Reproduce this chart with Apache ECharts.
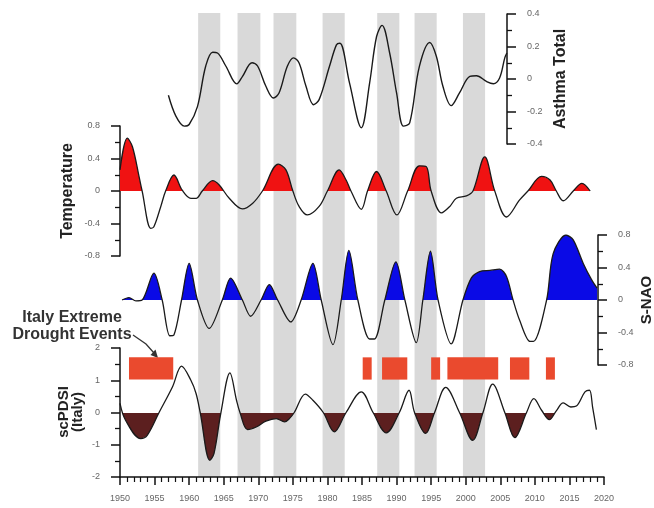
<!DOCTYPE html>
<html>
<head>
<meta charset="utf-8">
<script src="https://cdn.jsdelivr.net/npm/echarts@6/dist/echarts.min.js"></script>
<style>
html,body{margin:0;padding:0;background:#fff;}
#chart{width:654px;height:508px;}
</style>
</head>
<body>
<div id="chart"></div>
<script>
// ---- Data ----
const xTickLabels = ['1950','1955','1960','1965','1970','1975','1980','1985','1990','1995','2000','2005','2010','2015','2020'];

const bandStart = [1961.3, 1967.0, 1972.2, 1979.3, 1987.2, 1992.6, 1999.6];
const bandEnd   = [1964.5, 1970.3, 1975.5, 1982.5, 1990.4, 1995.8, 2002.8];

const asthmaYears  = [1957.0,1958.1,1959.3,1960.0,1961.2,1962.4,1963.4,1964.1,1965.3,1966.9,1967.7,1969.1,1969.9,1971.1,1972.2,1973.0,1974.2,1975.1,1975.9,1976.9,1978.0,1978.8,1980.3,1981.3,1981.8,1983.2,1984.9,1986.1,1987.1,1987.9,1989.0,1990.0,1991.0,1991.9,1993.3,1994.8,1995.75,1996.7,1997.9,1999.1,2000.6,2001.55,2003.0,2004.0,2004.9,2005.65,2005.95];
const asthmaValues = [-0.10,-0.23,-0.29,-0.28,-0.17,0.08,0.165,0.16,0.08,-0.03,0.015,0.10,0.08,-0.045,-0.117,-0.086,0.078,0.13,0.098,-0.045,-0.158,-0.127,0.078,0.21,0.22,-0.025,-0.30,-0.025,0.26,0.33,0.16,-0.086,-0.29,-0.27,0.078,0.225,0.14,-0.045,-0.164,-0.086,0.016,0.02,-0.015,-0.029,0.006,0.13,0.16];

const tempYears  = [1950.0,1951.06,1951.8,1952.75,1953.2,1954.45,1954.9,1955.9,1956.6,1957.8,1959.0,1960.25,1961.0,1961.9,1963.4,1964.35,1965.8,1967.7,1969.2,1970.6,1972.9,1974.0,1975.0,1975.9,1977.1,1978.8,1980.0,1981.7,1982.7,1983.4,1984.9,1985.8,1987.1,1988.5,1990.05,1991.6,1993.3,1994.3,1995.0,1996.5,1997.7,1998.65,2000.1,2001.05,2002.75,2004.2,2005.9,2007.8,2009.0,2010.97,2012.2,2013.1,2014.1,2015.55,2016.8,2018.0];
const tempValues = [0.26,0.65,0.545,0.18,0,-0.46,-0.44,-0.19,0,0.197,0.01,-0.09,-0.09,0,0.127,0.074,-0.09,-0.22,-0.15,0,0.33,0.26,0,-0.19,-0.295,-0.19,0,0.26,0.135,0,-0.225,0,0.24,0,-0.295,0,0.31,0.30,0,-0.27,-0.19,-0.09,-0.06,0,0.42,0,-0.32,-0.11,0,0.18,0.135,0,-0.12,0,0.095,0];

const snaoYears  = [1950.3,1951.3,1952.3,1953.2,1954.9,1956.1,1957.2,1957.8,1958.9,1960.0,1961.2,1962.9,1964.8,1966.0,1967.7,1968.9,1970.4,1971.6,1972.8,1974.7,1976.2,1977.9,1979.1,1980.8,1982.0,1983.1,1984.4,1986.1,1986.8,1988.3,1989.9,1991.2,1992.85,1993.8,1994.9,1996.0,1997.9,1999.6,2000.8,2002.0,2003.5,2004.9,2005.9,2006.85,2007.8,2009.3,2009.8,2011.7,2012.65,2014.5,2015.55,2017.0,2018.2,2019.0];
const snaoValues = [0,0.03,-0.01,0,0.33,0,-0.44,-0.43,0,0.45,0,-0.35,0,0.27,0,-0.2,0,0.19,0,-0.27,0,0.45,0,-0.55,0,0.61,0,-0.48,-0.48,0,0.47,0,-0.525,0,0.6,0,-0.54,0,0.27,0.35,0.365,0.38,0.29,0,-0.25,-0.51,-0.51,0,0.57,0.8,0.74,0.45,0.25,0.145];

const pdsiYears  = [1950.0,1950.8,1953.0,1953.96,1955.65,1957.6,1958.9,1960.25,1961.0,1961.6,1963.0,1963.6,1964.6,1965.9,1966.85,1967.35,1968.45,1969.7,1971.1,1972.6,1973.8,1974.5,1975.2,1976.8,1977.9,1979.4,1981.0,1982.7,1984.9,1986.6,1988.5,1990.4,1991.8,1992.6,1994.2,1995.5,1997.1,1999.1,2001.0,2002.5,2003.9,2005.65,2007.1,2008.8,2009.85,2010.97,2012.1,2013.1,2014.1,2015.2,2016.0,2017.25,2017.9,2018.35,2018.9];
const pdsiValues = [0.28,-0.24,-0.81,-0.7,0,0.8,1.44,1.0,0.59,0,-1.48,-1.27,0,1.23,0.38,0,-0.53,-0.45,-0.27,-0.19,-0.29,-0.19,0,0.57,0.38,0,-0.6,0,0.64,0,-0.63,0,0.69,0,-0.65,0,0.78,0,-0.86,0,0.88,0,-0.78,0,0.43,0.07,-0.22,0.05,0.3,0.17,0.2,0.64,0.69,0.17,-0.53];
const pdsiFillEndYear = 2018.35; // the final drop is not shaded in the reference

const droughtStart = [1951.3, 1985.1, 1987.9, 1995.0, 1997.35, 2006.4, 2011.6];
const droughtEnd   = [1957.7, 1986.4, 1991.55, 1996.3, 2004.7, 2009.2, 2012.9];

// ---- Build chart ----
const zip = (xs, ys) => xs.map((x, i) => [x, ys[i]]);
const PX_PER_YEAR = 484 / 70;
const LEFT = 120;
const AX_RIGHT_ASTHMA = 507;
const AX_RIGHT_SNAO = 598;
const FONT = 'Liberation Sans, Arial, sans-serif';
const CLEAR = 'rgba(255,255,255,0)';

const axisCommonY = (min, max, interval, pos) => ({
  type: 'value', min, max, interval, position: pos,
  axisLine: {show: true, onZero: false, lineStyle: {color: '#111', width: 1.5}},
  axisTick: {show: true, length: 9, lineStyle: {color: '#111', width: 1.5}},
  minorTick: {show: true, splitNumber: 2, length: 5, lineStyle: {color: '#111', width: 1.3}},
  axisLabel: {fontSize: 9, color: '#666', fontFamily: FONT, margin: 20},
  splitLine: {show: false}
});
const hiddenX = (grid, max) => ({
  type: 'value', gridIndex: grid, min: 1950, max: max, show: false
});
const rectRenderer = (y0, y1, color) => function (params, api) {
  const p0 = api.coord([api.value(0), y1]);
  const p1 = api.coord([api.value(1), y0]);
  return {type: 'rect', shape: {x: p0[0], y: p0[1], width: p1[0] - p0[0], height: p1[1] - p0[1]},
          style: {fill: color}};
};

const pdsiAll = zip(pdsiYears, pdsiValues);
const pdsiFill = pdsiAll.filter(d => d[0] <= pdsiFillEndYear);

const option = {
  animation: false,
  backgroundColor: '#ffffff',
  grid: [
    {left: LEFT, top: 13, width: 484, height: 464},                       // bands
    {left: LEFT, top: 14, width: AX_RIGHT_ASTHMA - LEFT, height: 130},    // asthma
    {left: LEFT, top: 126, width: 484, height: 130},                      // temperature
    {left: LEFT, top: 235, width: AX_RIGHT_SNAO - LEFT, height: 130},     // S-NAO
    {left: LEFT, top: 348, width: 484, height: 129}                       // scPDSI
  ],
  xAxis: [
    hiddenX(0, 2020),
    hiddenX(1, 1950 + (AX_RIGHT_ASTHMA - LEFT) / PX_PER_YEAR),
    hiddenX(2, 2020),
    hiddenX(3, 1950 + (AX_RIGHT_SNAO - LEFT) / PX_PER_YEAR),
    {
      type: 'value', gridIndex: 4, min: 1950, max: 2020, interval: 5,
      axisLine: {show: true, onZero: false, lineStyle: {color: '#111', width: 1.5}},
      axisTick: {show: true, length: 8, lineStyle: {color: '#111', width: 1.5}},
      minorTick: {show: true, splitNumber: 5, length: 5, lineStyle: {color: '#111', width: 1.2}},
      axisLabel: {fontSize: 9, color: '#666', fontFamily: FONT, margin: 17,
        formatter: v => xTickLabels[Math.round((v - 1950) / 5)] || ''},
      splitLine: {show: false}
    }
  ],
  yAxis: [
    {type: 'value', gridIndex: 0, min: 0, max: 1, show: false},
    Object.assign(axisCommonY(-0.4, 0.4, 0.2, 'right'), {gridIndex: 1}),
    Object.assign(axisCommonY(-0.8, 0.8, 0.4, 'left'), {gridIndex: 2}),
    Object.assign(axisCommonY(-0.8, 0.8, 0.4, 'right'), {gridIndex: 3}),
    Object.assign(axisCommonY(-2, 2, 1, 'left'), {gridIndex: 4})
  ],
  visualMap: [
    {type: 'piecewise', show: false, seriesIndex: 2, dimension: 1,
     pieces: [{gt: 0, lte: 10, color: '#f01212'}, {gt: -10, lte: 0, color: CLEAR}]},
    {type: 'piecewise', show: false, seriesIndex: 3, dimension: 1,
     pieces: [{gt: 0, lte: 10, color: '#0a0ae6'}, {gt: -10, lte: 0, color: CLEAR}]},
    {type: 'piecewise', show: false, seriesIndex: 5, dimension: 1,
     pieces: [{gte: -10, lt: 0, color: '#5c1f1f'}, {gte: 0, lt: 10, color: CLEAR}]}
  ],
  series: [
    { // gray bands
      type: 'custom', xAxisIndex: 0, yAxisIndex: 0, silent: true, z: 0,
      data: bandStart.map((s, i) => [s, bandEnd[i]]),
      renderItem: rectRenderer(0, 1, '#d9d9d9')
    },
    { // asthma
      type: 'line', xAxisIndex: 1, yAxisIndex: 1, data: zip(asthmaYears, asthmaValues),
      smooth: 0.35, showSymbol: false, z: 3, lineStyle: {color: '#1a1a1a', width: 1.4}
    },
    { // temperature
      type: 'line', xAxisIndex: 2, yAxisIndex: 2, data: zip(tempYears, tempValues),
      smooth: 0.35, showSymbol: false, z: 3, lineStyle: {color: '#1a1a1a', width: 1.3},
      areaStyle: {opacity: 1}
    },
    { // S-NAO
      type: 'line', xAxisIndex: 3, yAxisIndex: 3, data: zip(snaoYears, snaoValues),
      smooth: 0.3, showSymbol: false, z: 3, lineStyle: {color: '#1a1a1a', width: 1.3},
      areaStyle: {opacity: 1}
    },
    { // drought events
      type: 'custom', xAxisIndex: 4, yAxisIndex: 4, silent: true, z: 2,
      data: droughtStart.map((s, i) => [s, droughtEnd[i]]),
      renderItem: rectRenderer(1.02, 1.71, '#ea4a2e')
    },
    { // scPDSI negative shading
      type: 'line', xAxisIndex: 4, yAxisIndex: 4, data: pdsiFill,
      smooth: 0.35, showSymbol: false, z: 2, lineStyle: {width: 0, color: CLEAR},
      areaStyle: {opacity: 1}
    },
    { // scPDSI line
      type: 'line', xAxisIndex: 4, yAxisIndex: 4, data: pdsiAll,
      smooth: 0.35, showSymbol: false, z: 3, lineStyle: {color: '#1a1a1a', width: 1.3}
    }
  ],
  graphic: [
    {type: 'text', x: 561, y: 79, rotation: Math.PI / 2,
     style: {text: 'Asthma Total', font: 'bold 16px ' + FONT, fill: '#222', align: 'center', verticalAlign: 'middle'}},
    {type: 'text', x: 68, y: 191, rotation: Math.PI / 2,
     style: {text: 'Temperature', font: 'bold 16px ' + FONT, fill: '#222', align: 'center', verticalAlign: 'middle'}},
    {type: 'text', x: 647, y: 300, rotation: Math.PI / 2,
     style: {text: 'S-NAO', font: 'bold 15px ' + FONT, fill: '#222', align: 'center', verticalAlign: 'middle'}},
    {type: 'text', x: 64, y: 412, rotation: Math.PI / 2,
     style: {text: 'scPDSI', font: 'bold 15px ' + FONT, fill: '#222', align: 'center', verticalAlign: 'middle'}},
    {type: 'text', x: 78, y: 412, rotation: Math.PI / 2,
     style: {text: '(Italy)', font: 'bold 15px ' + FONT, fill: '#222', align: 'center', verticalAlign: 'middle'}},
    {type: 'text', x: 72, y: 318,
     style: {text: 'Italy Extreme', font: 'bold 16px ' + FONT, fill: '#333', align: 'center', verticalAlign: 'middle'}},
    {type: 'text', x: 72, y: 335,
     style: {text: 'Drought Events', font: 'bold 16px ' + FONT, fill: '#333', align: 'center', verticalAlign: 'middle'}},
    {type: 'polyline', shape: {points: [[133, 335], [146, 344], [154, 353]]},
     style: {stroke: '#333', lineWidth: 1.3, fill: null}},
    {type: 'polygon', shape: {points: [[158, 358], [150.5, 355], [155.5, 349.5]]},
     style: {fill: '#333'}}
  ]
};

const chart = echarts.init(document.getElementById('chart'), null, {renderer: 'canvas'});
chart.setOption(option);
</script>
</body>
</html>
